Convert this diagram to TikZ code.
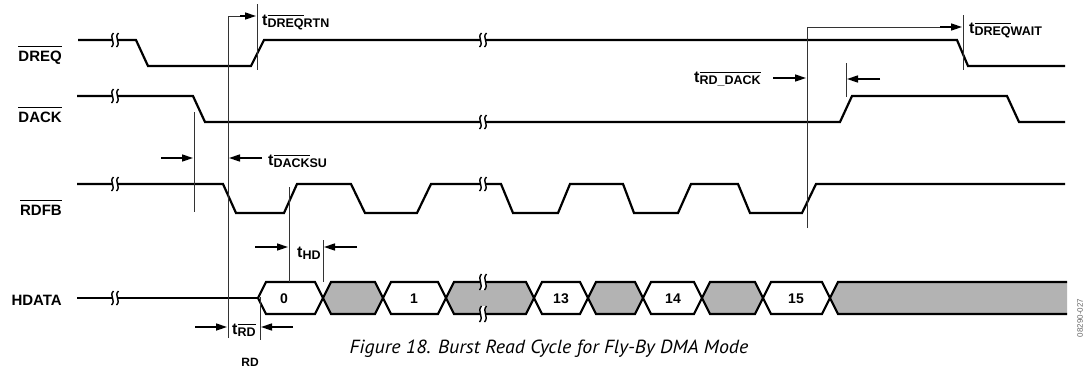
\documentclass[tikz,border=0pt]{standalone}
\usepackage{fontspec}
\setmainfont{Liberation Sans}
\newfontfamily\capfont{PT Sans}
\usetikzlibrary{arrows.meta}
\definecolor{busgray}{HTML}{B3B3B3}
\newcommand\ovl[2][3.3pt]{\vbox{\hrule height 1.1pt\kern#1\hbox{#2}}}
\newcommand\subt[1]{\raisebox{-2.5pt}{\fontsize{12.5}{12.5}\selectfont #1}}
% break mark: x, y, half height
\newcommand\brk[3]{%
  \fill[white] ({#1-1.5},{#2-#3}) .. controls ({#1-6.5},{#2-#3/3}) and ({#1+1.5},{#2+#3/3}) .. ({#1-3.5},{#2+#3})
     -- ({#1+1.5},{#2+#3}) .. controls ({#1+6.5},{#2+#3/3}) and ({#1-1.5},{#2-#3/3}) .. ({#1+3.5},{#2-#3}) -- cycle;
  \draw[line width=1.4pt] ({#1-1.5},{#2-#3}) .. controls ({#1-6.5},{#2-#3/3}) and ({#1+1.5},{#2+#3/3}) .. ({#1-3.5},{#2+#3});
  \draw[line width=1.4pt] ({#1+3.5},{#2-#3}) .. controls ({#1-1.5},{#2-#3/3}) and ({#1+6.5},{#2+#3/3}) .. ({#1+1.5},{#2+#3});
}
\begin{document}
\begin{tikzpicture}[x=1pt,y=-1pt,
  sig/.style={line width=2.2pt},
  refl/.style={line width=1pt, draw=black!80},
  arr/.style={line width=1.6pt,-{Triangle[length=11pt,width=7pt]}},
  lbl/.style={font=\fontsize{15}{15}\selectfont\bfseries, anchor=base east, inner sep=0pt},
  tlab/.style={font=\fontsize{16}{16}\selectfont\bfseries, anchor=base west, inner sep=0pt},
  num/.style={font=\fontsize{14}{14}\selectfont\bfseries, inner sep=0pt},
  wbox/.style={fill=white, draw=black, line width=2.2pt},
  gbox/.style={fill=busgray, draw=black, line width=2.2pt},
]
\useasboundingbox (0,0) rectangle (1086,368);

% signal names
\node[lbl] (lDREQ) at (62,61) {\ovl{DREQ}};
\node[lbl] (lDACK) at (62,122) {\ovl{DACK}};
\node[lbl] (lRDFB) at (62,215) {\ovl{RDFB}};
\node[lbl] (lHDATA) at (62,305) {HDATA};

% DREQ
\draw[sig] (78,40) -- (136,40) -- (148,66) -- (251,66) -- (264,40) -- (957,40) -- (968,66) -- (1065,66);
% DACK
\draw[sig] (77,96) -- (193,96) -- (205,122) -- (840,122) -- (852,96) -- (1007,96) -- (1019,122) -- (1065,122);
% RDFB
\draw[sig] (77,184) -- (223,184) -- (236,213) -- (284,213) -- (297,184) -- (351,184) -- (365,213) -- (417,213)
  -- (431,184) -- (501,184) -- (513,213) -- (558,213) -- (570,184) -- (623,184) -- (634,213) -- (678,213)
  -- (691,184) -- (738,184) -- (750,213) -- (802,213) -- (816,184) -- (1065,184);
% HDATA
\draw[sig] (77,298) -- (258,298);
\draw[wbox] (258,298) -- (266,282) -- (315,282) -- (323,298) -- (315,314) -- (266,314) -- cycle;
\draw[gbox] (323,298) -- (331,282) -- (375,282) -- (383,298) -- (375,314) -- (331,314) -- cycle;
\draw[wbox] (383,298) -- (391,282) -- (438,282) -- (446,298) -- (438,314) -- (391,314) -- cycle;
\draw[gbox] (446,298) -- (454,282) -- (526,282) -- (534,298) -- (526,314) -- (454,314) -- cycle;
\draw[wbox] (534,298) -- (542,282) -- (580,282) -- (588,298) -- (580,314) -- (542,314) -- cycle;
\draw[gbox] (588,298) -- (596,282) -- (635,282) -- (643,298) -- (635,314) -- (596,314) -- cycle;
\draw[wbox] (643,298) -- (651,282) -- (694,282) -- (702,298) -- (694,314) -- (651,314) -- cycle;
\draw[gbox] (702,298) -- (710,282) -- (755,282) -- (763,298) -- (755,314) -- (710,314) -- cycle;
\draw[wbox] (763,298) -- (771,282) -- (822,282) -- (830,298) -- (822,314) -- (771,314) -- cycle;
\fill[busgray] (830,298) -- (838,282) -- (1067,282) -- (1067,314) -- (838,314) -- cycle;
\draw[sig] (1067,282) -- (838,282) -- (830,298) -- (838,314) -- (1067,314);
\node[num] (d0) at (284,299) {0};
\node[num] (d1) at (414,299) {1};
\node[num] (d13) at (561,299) {13};
\node[num] (d14) at (673,299) {14};
\node[num] (d15) at (796,299) {15};

% breaks
\brk{115}{40}{7}
\brk{115}{96}{7}
\brk{115}{184}{7}
\brk{115}{298}{7}
\brk{483}{40}{7}
\brk{483}{122}{7}
\brk{483}{184}{7}
\brk{483}{282}{8}
\brk{483}{314}{8}

% reference lines
\coordinate (v1t) at (228,16);
\coordinate (v1b) at (228,338);
\draw[refl] (v1b) -- (v1t) -- (240,16);
\coordinate (a1) at (240,16);
\coordinate (a1e) at (256,16);
\draw[arr] (a1) -- (a1e);
\draw[refl] (257,4) -- (257,70);

\draw[refl] (194,112) -- (194,212);
\coordinate (a2s) at (161,158); \coordinate (a2e) at (193,158);
\draw[arr] (a2s) -- (a2e);
\coordinate (a3s) at (262,158); \coordinate (a3e) at (229,158);
\draw[arr] (a3s) -- (a3e);

% tHD
\draw[refl] (289,187) -- (289,282);
\draw[refl] (323,240) -- (323,282);
\coordinate (a4s) at (255,247); \coordinate (a4e) at (288,247);
\draw[arr] (a4s) -- (a4e);
\coordinate (a5s) at (357,247); \coordinate (a5e) at (324,247);
\draw[arr] (a5s) -- (a5e);

% tRD
\draw[refl] (260,297) -- (260,340);
\coordinate (a6s) at (195,327); \coordinate (a6e) at (227,327);
\draw[arr] (a6s) -- (a6e);
\coordinate (a7s) at (293,327); \coordinate (a7e) at (261,327);
\draw[arr] (a7s) -- (a7e);

% right side
\draw[refl] (807,228) -- (807,27) -- (950,27);
\coordinate (a8s) at (940,27); \coordinate (a8e) at (962,27);
\draw[arr] (a8s) -- (a8e);
\draw[refl] (963,15) -- (963,70);
\coordinate (a9s) at (773,78); \coordinate (a9e) at (806,78);
\draw[arr] (a9s) -- (a9e);
\draw[refl] (846,63) -- (846,97);
\coordinate (a10s) at (880,79); \coordinate (a10e) at (847,79);
\draw[arr] (a10s) -- (a10e);

% timing labels
\node[tlab] (tDREQRTN) at (262,25) {t\subt{\ovl[3pt]{DREQ}RTN}};
\node[tlab] (tDACKSU) at (268,165) {t\subt{\ovl[3pt]{DACK}SU}};
\node[tlab] (tHD) at (297,257) {t\subt{HD}};
\node[tlab] (tRD) at (232,334) {t\subt{\ovl[2.5pt]{RD}}};
\node[tlab] (tRDDACK) at (694,82) {t\subt{\ovl[3pt]{RD\_DACK}}};
\node[tlab] (tDREQWAIT) at (969,33) {t\subt{\ovl[3pt]{DREQ}WAIT}};
\node[font=\fontsize{12}{12}\selectfont\bfseries, anchor=base, inner sep=0pt] (rd) at (250,366) {RD};

% caption
\node[anchor=base, inner sep=0pt, xscale=1.05, font=\capfont\itshape\fontsize{19}{19}\selectfont] (cap) at (549,353) {Figure 18. Burst Read Cycle for Fly-By DMA Mode};
\node[rotate=90, inner sep=0pt, font=\fontsize{8}{8}\selectfont, text=black!60] (code) at (1080,318) {08290-027};
\end{tikzpicture}
\end{document}
